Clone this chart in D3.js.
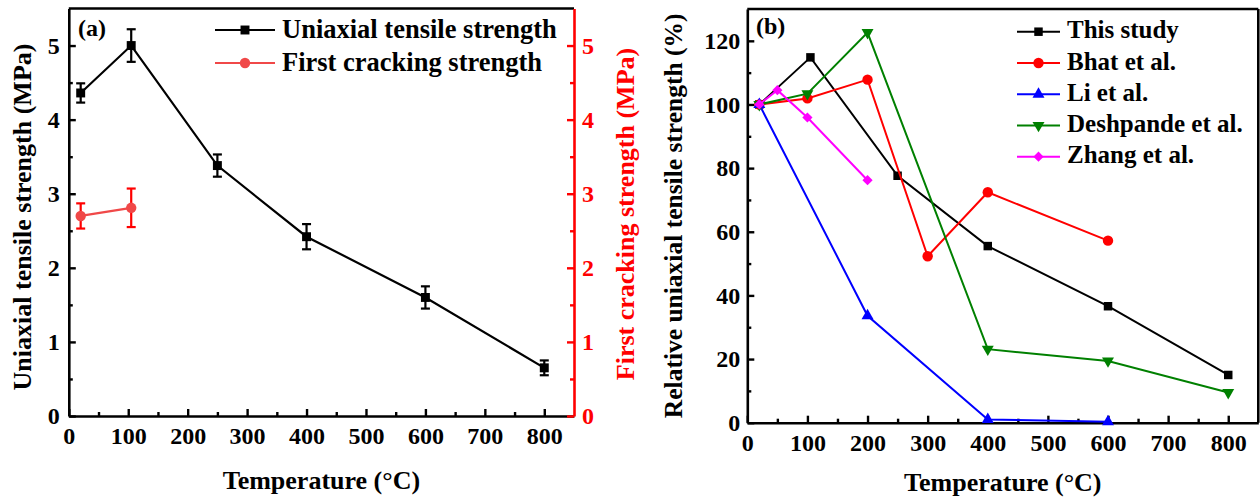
<!DOCTYPE html>
<html><head><meta charset="utf-8">
<script src="https://cdn.jsdelivr.net/npm/d3@7"></script>
<style>
body{margin:0;background:#fff}
svg{display:block}
text{font-family:"Liberation Serif","Times New Roman",serif;font-weight:bold}
</style>
</head><body>
<svg id="chart" width="1260" height="499"></svg>
<script>
// ---------- Panel (a): uniaxial tensile / first cracking strength ----------
const tempsA = [20, 105, 250, 400, 600, 800];
const utsMean = [4.36, 5.00, 3.38, 2.42, 1.60, 0.65];
const utsErr = [0.13, 0.22, 0.15, 0.17, 0.15, 0.10];
const fcsTemps = [20, 105];
const fcsMean = [2.70, 2.81];
const fcsErr = [0.17, 0.26];
const xTicksA = [0, 100, 200, 300, 400, 500, 600, 700, 800];
const yTicksA = [0, 1, 2, 3, 4, 5];
const legendA = ["Uniaxial tensile strength", "First cracking strength"];

// ---------- Panel (b): relative uniaxial tensile strength ----------
const studyNames = ["This study", "Bhat et al.", "Li et al.", "Deshpande et al.", "Zhang et al."];
const thisStudyT = [20, 105, 250, 400, 600, 800];
const thisStudyV = [100, 114.8, 77.6, 55.5, 36.6, 15.0];
const bhatT = [20, 100, 200, 300, 400, 600];
const bhatV = [100, 101.9, 107.8, 52.3, 72.4, 57.2];
const liT = [20, 200, 400, 600];
const liV = [100, 33.6, 1.0, 0.3];
const deshpandeT = [20, 100, 200, 400, 600, 800];
const deshpandeV = [100, 103.4, 122.6, 23.1, 19.4, 9.5];
const zhangT = [20, 50, 100, 200];
const zhangV = [100, 104.5, 95.9, 76.2];
const xTicksB = [0, 100, 200, 300, 400, 500, 600, 700, 800];
const yTicksB = [0, 20, 40, 60, 80, 100, 120];

const svg = d3.select("#chart");
const fmt = d3.format("d");

function styleAxis(g, color, size) {
  g.attr("font-family", null).attr("font-size", null);
  g.selectAll("path.domain").attr("stroke", color).attr("stroke-width", 2.6);
  g.selectAll(".tick line").attr("stroke", color).attr("stroke-width", 2.4);
  g.selectAll(".tick text").attr("fill", color)
    .style("font-size", size + "px");
}

function drawAxis(axisFn, scale, major, minor, transform, color, pad) {
  const gMinor = svg.append("g").attr("transform", transform)
    .call(axisFn(scale).tickValues(minor).tickSize(-4).tickSizeOuter(0).tickFormat(""));
  styleAxis(gMinor, color, 24);
  gMinor.select("path.domain").remove();
  const g = svg.append("g").attr("transform", transform)
    .call(axisFn(scale).tickValues(major).tickSize(-7).tickSizeOuter(0)
      .tickPadding(pad).tickFormat(fmt));
  styleAxis(g, color, 24);
  return g;
}

// ===== Panel (a) =====
const xA = d3.scaleLinear().domain([0, 850]).range([68.8, 574]);
const yA = d3.scaleLinear().domain([0, 5.5]).range([416, 8.5]);

// top frame line
svg.append("line").attr("x1", xA(0)).attr("x2", xA(850))
  .attr("y1", yA(5.5)).attr("y2", yA(5.5))
  .attr("stroke", "#000").attr("stroke-width", 2.6);

drawAxis(d3.axisBottom, xA, xTicksA, d3.range(50, 850, 100),
  `translate(0,${yA(0)})`, "#000", 11);
drawAxis(d3.axisLeft, yA, yTicksA, d3.range(0.5, 5.5, 1),
  `translate(${xA(0)},0)`, "#000", 9);
drawAxis(d3.axisRight, yA, yTicksA, d3.range(0.5, 5.5, 1),
  `translate(${xA(850)},0)`, "#ff0000", 8);

// axis titles
svg.append("text").attr("x", (xA(0) + xA(850)) / 2).attr("y", 489)
  .attr("text-anchor", "middle").style("font-size", "26px")
  .text("Temperature (°C)");
svg.append("text")
  .attr("transform", "translate(31,217) rotate(-90)")
  .attr("text-anchor", "middle").style("font-size", "26px")
  .text("Uniaxial tensile strength (MPa)");
svg.append("text")
  .attr("transform", "translate(634,214) rotate(-90)")
  .attr("text-anchor", "middle").attr("fill", "#ff0000").style("font-size", "26px")
  .text("First cracking strength (MPa)");

svg.append("text").attr("x", 78).attr("y", 36).style("font-size", "24px").text("(a)");

const lineA = d3.line().x(d => xA(d[0])).y(d => yA(d[1]));

function errorBars(xs, ms, es, xS, yS, color) {
  const g = svg.append("g").attr("stroke", color).attr("stroke-width", 2.2).attr("fill", "none");
  xs.forEach((t, i) => {
    const x = xS(t), y0 = yS(ms[i] - es[i]), y1 = yS(ms[i] + es[i]);
    g.append("line").attr("x1", x).attr("x2", x).attr("y1", y0).attr("y2", y1);
    g.append("line").attr("x1", x - 4.5).attr("x2", x + 4.5).attr("y1", y0).attr("y2", y0);
    g.append("line").attr("x1", x - 4.5).attr("x2", x + 4.5).attr("y1", y1).attr("y2", y1);
  });
}

// uniaxial tensile strength
svg.append("path").datum(tempsA.map((t, i) => [t, utsMean[i]]))
  .attr("d", lineA).attr("fill", "none").attr("stroke", "#000").attr("stroke-width", 2.2);
errorBars(tempsA, utsMean, utsErr, xA, yA, "#000");
svg.append("g").selectAll("path").data(tempsA.map((t, i) => [t, utsMean[i]])).join("path")
  .attr("d", d3.symbol(d3.symbolSquare, 80))
  .attr("transform", d => `translate(${xA(d[0])},${yA(d[1])})`).attr("fill", "#000");

// first cracking strength
svg.append("path").datum(fcsTemps.map((t, i) => [t, fcsMean[i]]))
  .attr("d", lineA).attr("fill", "none").attr("stroke", "#f04848").attr("stroke-width", 2.2);
errorBars(fcsTemps, fcsMean, fcsErr, xA, yA, "#ff0000");
svg.append("g").selectAll("circle").data(fcsTemps.map((t, i) => [t, fcsMean[i]])).join("circle")
  .attr("cx", d => xA(d[0])).attr("cy", d => yA(d[1])).attr("r", 5.2).attr("fill", "#f04848");

// legend (a)
const legA = svg.append("g");
legendA.forEach((name, i) => {
  const y = 30 + i * 33;
  const col = i === 0 ? "#000" : "#f04848";
  legA.append("line").attr("x1", 215).attr("x2", 275).attr("y1", y).attr("y2", y)
    .attr("stroke", col).attr("stroke-width", 2.2);
  if (i === 0) {
    legA.append("path").attr("d", d3.symbol(d3.symbolSquare, 80))
      .attr("transform", `translate(245,${y})`).attr("fill", col);
  } else {
    legA.append("circle").attr("cx", 245).attr("cy", y).attr("r", 5.2).attr("fill", col);
  }
  legA.append("text").attr("x", 282).attr("y", y).attr("dy", "0.3em")
    .style("font-size", "26.5px").text(name);
});

// ===== Panel (b) =====
const xB = d3.scaleLinear().domain([0, 850]).range([747.3, 1258.3]);
const yB = d3.scaleLinear().domain([0, 130]).range([422.7, 9]);

svg.append("line").attr("x1", xB(0)).attr("x2", xB(850))
  .attr("y1", yB(130)).attr("y2", yB(130)).attr("stroke", "#000").attr("stroke-width", 2.6);
svg.append("line").attr("x1", xB(850)).attr("x2", xB(850))
  .attr("y1", yB(130)).attr("y2", yB(0)).attr("stroke", "#000").attr("stroke-width", 2.6);

drawAxis(d3.axisBottom, xB, xTicksB, d3.range(50, 850, 100),
  `translate(0,${yB(0)})`, "#000", 11);
drawAxis(d3.axisLeft, yB, yTicksB, d3.range(10, 130, 20),
  `translate(${xB(0)},0)`, "#000", 7);

svg.append("text").attr("x", (xB(0) + xB(850)) / 2).attr("y", 491)
  .attr("text-anchor", "middle").style("font-size", "26px")
  .text("Temperature (°C)");
svg.append("text")
  .attr("transform", `translate(682,${(yB(0) + yB(130)) / 2}) rotate(-90)`)
  .attr("text-anchor", "middle").style("font-size", "25.5px")
  .text("Relative uniaxial tensile strength (%)");

svg.append("text").attr("x", 756).attr("y", 34).style("font-size", "24px").text("(b)");

const seriesB = [
  { name: studyNames[0], t: thisStudyT, v: thisStudyV, color: "#000000", sym: "square" },
  { name: studyNames[1], t: bhatT, v: bhatV, color: "#ff0000", sym: "circle" },
  { name: studyNames[2], t: liT, v: liV, color: "#0000ff", sym: "triUp" },
  { name: studyNames[3], t: deshpandeT, v: deshpandeV, color: "#008000", sym: "triDown" },
  { name: studyNames[4], t: zhangT, v: zhangV, color: "#ff00ff", sym: "diamond" }
];

function marker(sel, sym, color, x, y) {
  let d, rot = 0;
  if (sym === "square") d = d3.symbol(d3.symbolSquare, 72)();
  else if (sym === "circle") d = d3.symbol(d3.symbolCircle, 85)();
  else if (sym === "triUp") d = d3.symbol(d3.symbolTriangle, 62)();
  else if (sym === "triDown") { d = d3.symbol(d3.symbolTriangle, 62)(); rot = 180; }
  else { d = d3.symbol(d3.symbolSquare, 52)(); rot = 45; }
  sel.append("path").attr("d", d).attr("fill", color)
    .attr("transform", `translate(${x},${y}) rotate(${rot})`);
}

const lineB = d3.line().x(d => xB(d[0])).y(d => yB(d[1]));
seriesB.forEach(s => {
  const pts = s.t.map((t, i) => [t, s.v[i]]);
  const g = svg.append("g");
  g.append("path").datum(pts).attr("d", lineB).attr("fill", "none")
    .attr("stroke", s.color).attr("stroke-width", 2);
  pts.forEach(p => marker(g, s.sym, s.color, xB(p[0]), yB(p[1])));
});

// legend (b)
const legB = svg.append("g");
seriesB.forEach((s, i) => {
  const y = 31.7 + i * 31.25;
  legB.append("line").attr("x1", 1017).attr("x2", 1060).attr("y1", y).attr("y2", y)
    .attr("stroke", s.color).attr("stroke-width", 2);
  marker(legB, s.sym, s.color, 1038.5, y);
  legB.append("text").attr("x", 1067).attr("y", y).attr("dy", "0.265em")
    .style("font-size", "25px").text(s.name);
});
</script>
</body></html>
